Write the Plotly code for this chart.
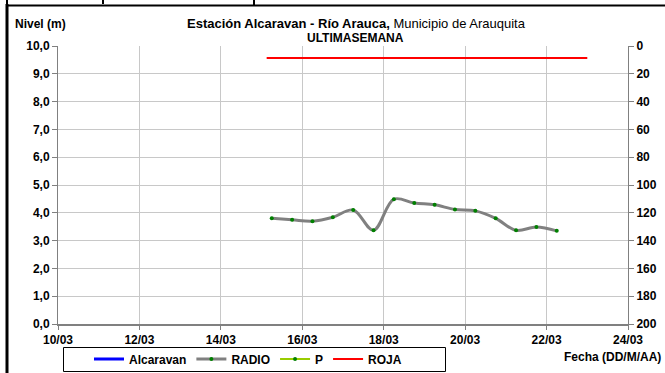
import plotly.graph_objects as go

# ---------------- data ----------------
radio_dates = [
    "2014-03-15 06:00", "2014-03-15 18:00", "2014-03-16 06:00", "2014-03-16 18:00",
    "2014-03-17 06:00", "2014-03-17 18:00", "2014-03-18 06:00", "2014-03-18 18:00",
    "2014-03-19 06:00", "2014-03-19 18:00", "2014-03-20 06:00", "2014-03-20 18:00",
    "2014-03-21 06:00", "2014-03-21 18:00", "2014-03-22 06:00",
]
radio_values = [3.80, 3.75, 3.70, 3.84, 4.10, 3.37, 4.49, 4.35, 4.29, 4.12, 4.07, 3.80, 3.37, 3.49, 3.35]

roja_dates = ["2014-03-15 03:00", "2014-03-23 00:00"]
roja_values = [9.57, 9.57]

x_range = ["2014-03-10", "2014-03-24"]
y_left_range = [0, 10]
y_right_range = [200, 0]

FONT = "Liberation Sans, Arial, sans-serif"
GRID = "#c8c8c8"
AXIS = "#808080"

fig = go.Figure()

fig.add_trace(go.Scatter(x=[None], y=[None], name="<b>Alcaravan</b>", mode="lines",
                         line=dict(color="#0000ff", width=3)))
fig.add_trace(go.Scatter(x=radio_dates, y=radio_values, name="<b>RADIO</b>", mode="lines+markers",
                         line=dict(color="#808080", width=3, shape="spline", smoothing=1.0),
                         marker=dict(color="#008000", size=4)))
fig.add_trace(go.Scatter(x=[None], y=[None], name="<b>P</b>", mode="lines+markers", yaxis="y2",
                         line=dict(color="#99cc00", width=2),
                         marker=dict(color="#008000", size=4)))
fig.add_trace(go.Scatter(x=roja_dates, y=roja_values, name="<b>ROJA</b>", mode="lines",
                         line=dict(color="#ff0000", width=2)))

tickfont = dict(family=FONT, size=12, color="black")

fig.update_layout(
    width=665, height=373,
    margin=dict(l=58, r=37, t=46, b=49, autoexpand=False),
    paper_bgcolor="white", plot_bgcolor="white",
    separators=",.",
    font=dict(family=FONT, size=12, color="black"),
    xaxis=dict(type="date", range=x_range, dtick=2 * 86400000, tick0="2014-03-10",
               tickformat="%d/%m", tickprefix="<b>", ticksuffix="</b>",
               showgrid=True, gridcolor=GRID, gridwidth=1,
               showline=True, linecolor=AXIS, linewidth=2, ticks="outside", ticklen=4,
               tickcolor=AXIS, tickfont=tickfont, zeroline=False),
    yaxis=dict(range=y_left_range, dtick=1, tickformat=".1f", tickprefix="<b>",
               ticksuffix="</b>", showgrid=True,
               gridcolor=GRID, gridwidth=1, showline=True, linecolor=AXIS, linewidth=1,
               ticks="outside", ticklen=5, tickcolor=AXIS, tickfont=tickfont,
               zeroline=False),
    yaxis2=dict(range=y_right_range, dtick=20, overlaying="y", side="right",
                tickprefix="<b>", ticksuffix="</b>",
                showgrid=False, showline=True, linecolor=AXIS, linewidth=1,
                ticks="outside", ticklen=5, tickcolor=AXIS, tickfont=tickfont,
                zeroline=False),
    showlegend=True,
    legend=dict(orientation="h", xref="container", yref="container",
                x=89 / 665, y=1 - 359 / 373, xanchor="left", yanchor="middle",
                borderwidth=0, bgcolor="rgba(0,0,0,0)",
                font=dict(family=FONT, size=12, color="black"),
                itemwidth=30, tracegroupgap=0),
)

W, H = 570.0, 278.0
def px(x):
    return (x - 58) / W
def py(y):
    return (324 - y) / H

# title and labels
fig.add_annotation(x=px(356), y=py(23.5), xref="paper", yref="paper", showarrow=False,
                   xanchor="center", yanchor="middle",
                   text="<b>Estación Alcaravan - Río Arauca,</b> Municipio de Arauquita",
                   font=dict(family=FONT, size=13, color="black"))
fig.add_annotation(x=px(355), y=py(38.5), xref="paper", yref="paper", showarrow=False,
                   xanchor="center", yanchor="middle", text="<b>ULTIMASEMANA</b>",
                   font=dict(family=FONT, size=12, color="black"))
fig.add_annotation(x=px(13), y=py(24), xref="paper", yref="paper", showarrow=False,
                   xanchor="left", yanchor="middle", text="<b>Nivel (m)</b>",
                   font=dict(family=FONT, size=12, color="black"))
fig.add_annotation(x=px(663), y=py(357), xref="paper", yref="paper", showarrow=False,
                   xanchor="right", yanchor="middle", text="<b>Fecha (DD/M/AA)</b>",
                   font=dict(family=FONT, size=12, color="black"))

# frame remnants and legend box
shapes = [
    dict(type="line", xref="paper", yref="paper", x0=px(7), x1=px(7), y0=py(4), y1=py(373),
         line=dict(color="black", width=3)),
    dict(type="line", xref="paper", yref="paper", x0=px(6), x1=px(665), y0=py(5.5), y1=py(5.5),
         line=dict(color="black", width=2)),
    dict(type="line", xref="paper", yref="paper", x0=px(7), x1=px(7), y0=py(0), y1=py(5),
         line=dict(color="black", width=2)),
    dict(type="line", xref="paper", yref="paper", x0=px(103), x1=px(103), y0=py(0), y1=py(4),
         line=dict(color="black", width=2)),
    dict(type="line", xref="paper", yref="paper", x0=px(254), x1=px(254), y0=py(0), y1=py(5),
         line=dict(color="black", width=2)),
    dict(type="rect", xref="paper", yref="paper", x0=px(63.5), x1=px(445.5), y0=py(347.5),
         y1=py(371.5), line=dict(color="black", width=1), layer="below"),
]
fig.update_layout(shapes=shapes)

fig.write_html("out.html", config={"displayModeBar": False})

# remove the browser's default page margin so the figure sits at the window origin
with open("out.html", "r", encoding="utf-8") as f:
    html = f.read()
html = html.replace("<body>", '<body style="margin:0;padding:0;">', 1)
with open("out.html", "w", encoding="utf-8") as f:
    f.write(html)
